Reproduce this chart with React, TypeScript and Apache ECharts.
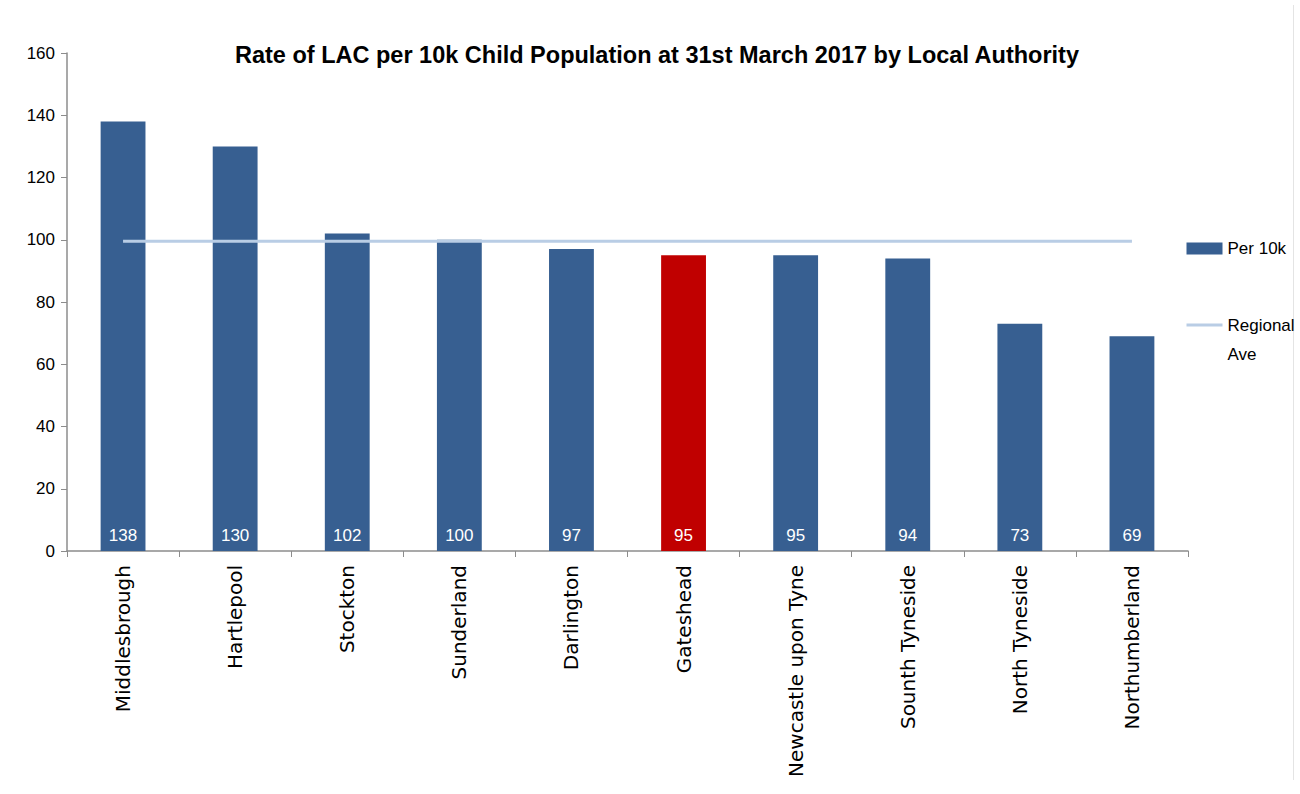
import React, { useEffect, useRef } from "react";
import * as echarts from "echarts";

const categories = [
  "Middlesbrough",
  "Hartlepool",
  "Stockton",
  "Sunderland",
  "Darlington",
  "Gateshead",
  "Newcastle upon Tyne",
  "Sounth Tyneside",
  "North Tyneside",
  "Northumberland",
];
const per10k = [138, 130, 102, 100, 97, 95, 95, 94, 73, 69];
const regionalAve = [99.5, 99.5, 99.5, 99.5, 99.5, 99.5, 99.5, 99.5, 99.5, 99.5];
const highlight = "Gateshead";
const yTicks = { min: 0, max: 160, interval: 20 };

export default function App() {
  const ref = useRef<HTMLDivElement>(null);
  useEffect(() => {
    document.body.style.margin = "0";
    const chart = echarts.init(ref.current!, null, { renderer: "svg" });
    const font = "'Liberation Sans', sans-serif";
    chart.setOption({
      animation: false,
      backgroundColor: "#ffffff",
      title: {
        text: "Rate of LAC per 10k Child Population at 31st March 2017 by Local Authority",
        left: 652,
        textAlign: "center",
        top: 38,
        textStyle: { fontFamily: font, fontSize: 23.5, fontWeight: "bold", color: "#000" },
      },
      graphic: [
        {
          type: "line",
          shape: { x1: 1293.5, y1: 5, x2: 1293.5, y2: 780 },
          style: { stroke: "#e4e4e4", lineWidth: 1 },
          silent: true,
        },
      ],
      legend: {
        orient: "vertical",
        left: 1180,
        top: 229,
        itemGap: 18.5,
        itemWidth: 36,
        itemHeight: 12,
        formatter: (name: string) => (name.indexOf("\n") >= 0 ? " \n" + name : name),
        textStyle: { fontFamily: font, fontSize: 17, color: "#000", lineHeight: 29 },
        data: [
          { name: "Per 10k", icon: "rect" },
          {
            name: "Regional\nAve",
            itemStyle: { color: "rgba(0,0,0,0)", borderWidth: 0, opacity: 0 },
            lineStyle: { color: "#b9cde5", width: 3 },
          },
        ],
      },
      grid: { left: 67, right: 112, top: 53, bottom: 243, containLabel: false },
      xAxis: {
        type: "category",
        data: categories,
        axisLine: { lineStyle: { color: "#8c8c8c", width: 1.5 } },
        axisTick: { show: true, alignWithLabel: false, length: 6, lineStyle: { color: "#8c8c8c" } },
        axisLabel: {
          rotate: 90,
          interval: 0,
          margin: 14,
          fontFamily: "'DejaVu Sans', sans-serif",
          fontSize: 20,
          color: "#000",
        },
      },
      yAxis: {
        type: "value",
        min: yTicks.min,
        max: yTicks.max,
        interval: yTicks.interval,
        splitLine: { show: false },
        axisLine: { show: true, lineStyle: { color: "#8c8c8c", width: 1.5 } },
        axisTick: { show: true, length: 6, lineStyle: { color: "#8c8c8c" } },
        axisLabel: { fontFamily: font, fontSize: 17, color: "#000", margin: 12 },
      },
      series: [
        {
          name: "Per 10k",
          type: "bar",
          barWidth: "40%",
          itemStyle: { color: "#375f91" },
          data: per10k.map((v, i) => ({
            value: v,
            itemStyle: { color: categories[i] === highlight ? "#c00000" : "#375f91" },
          })),
          label: {
            show: true,
            position: "insideBottom",
            distance: 7,
            color: "#fff",
            fontFamily: font,
            fontSize: 17,
          },
        },
        {
          name: "Regional\nAve",
          type: "line",
          data: regionalAve,
          symbol: "none",
          lineStyle: { color: "#b9cde5", width: 3 },
          itemStyle: { color: "#b9cde5" },
        },
      ],
    });
    return () => chart.dispose();
  }, []);
  return <div ref={ref} style={{ width: 1300, height: 794 }} />;
}
